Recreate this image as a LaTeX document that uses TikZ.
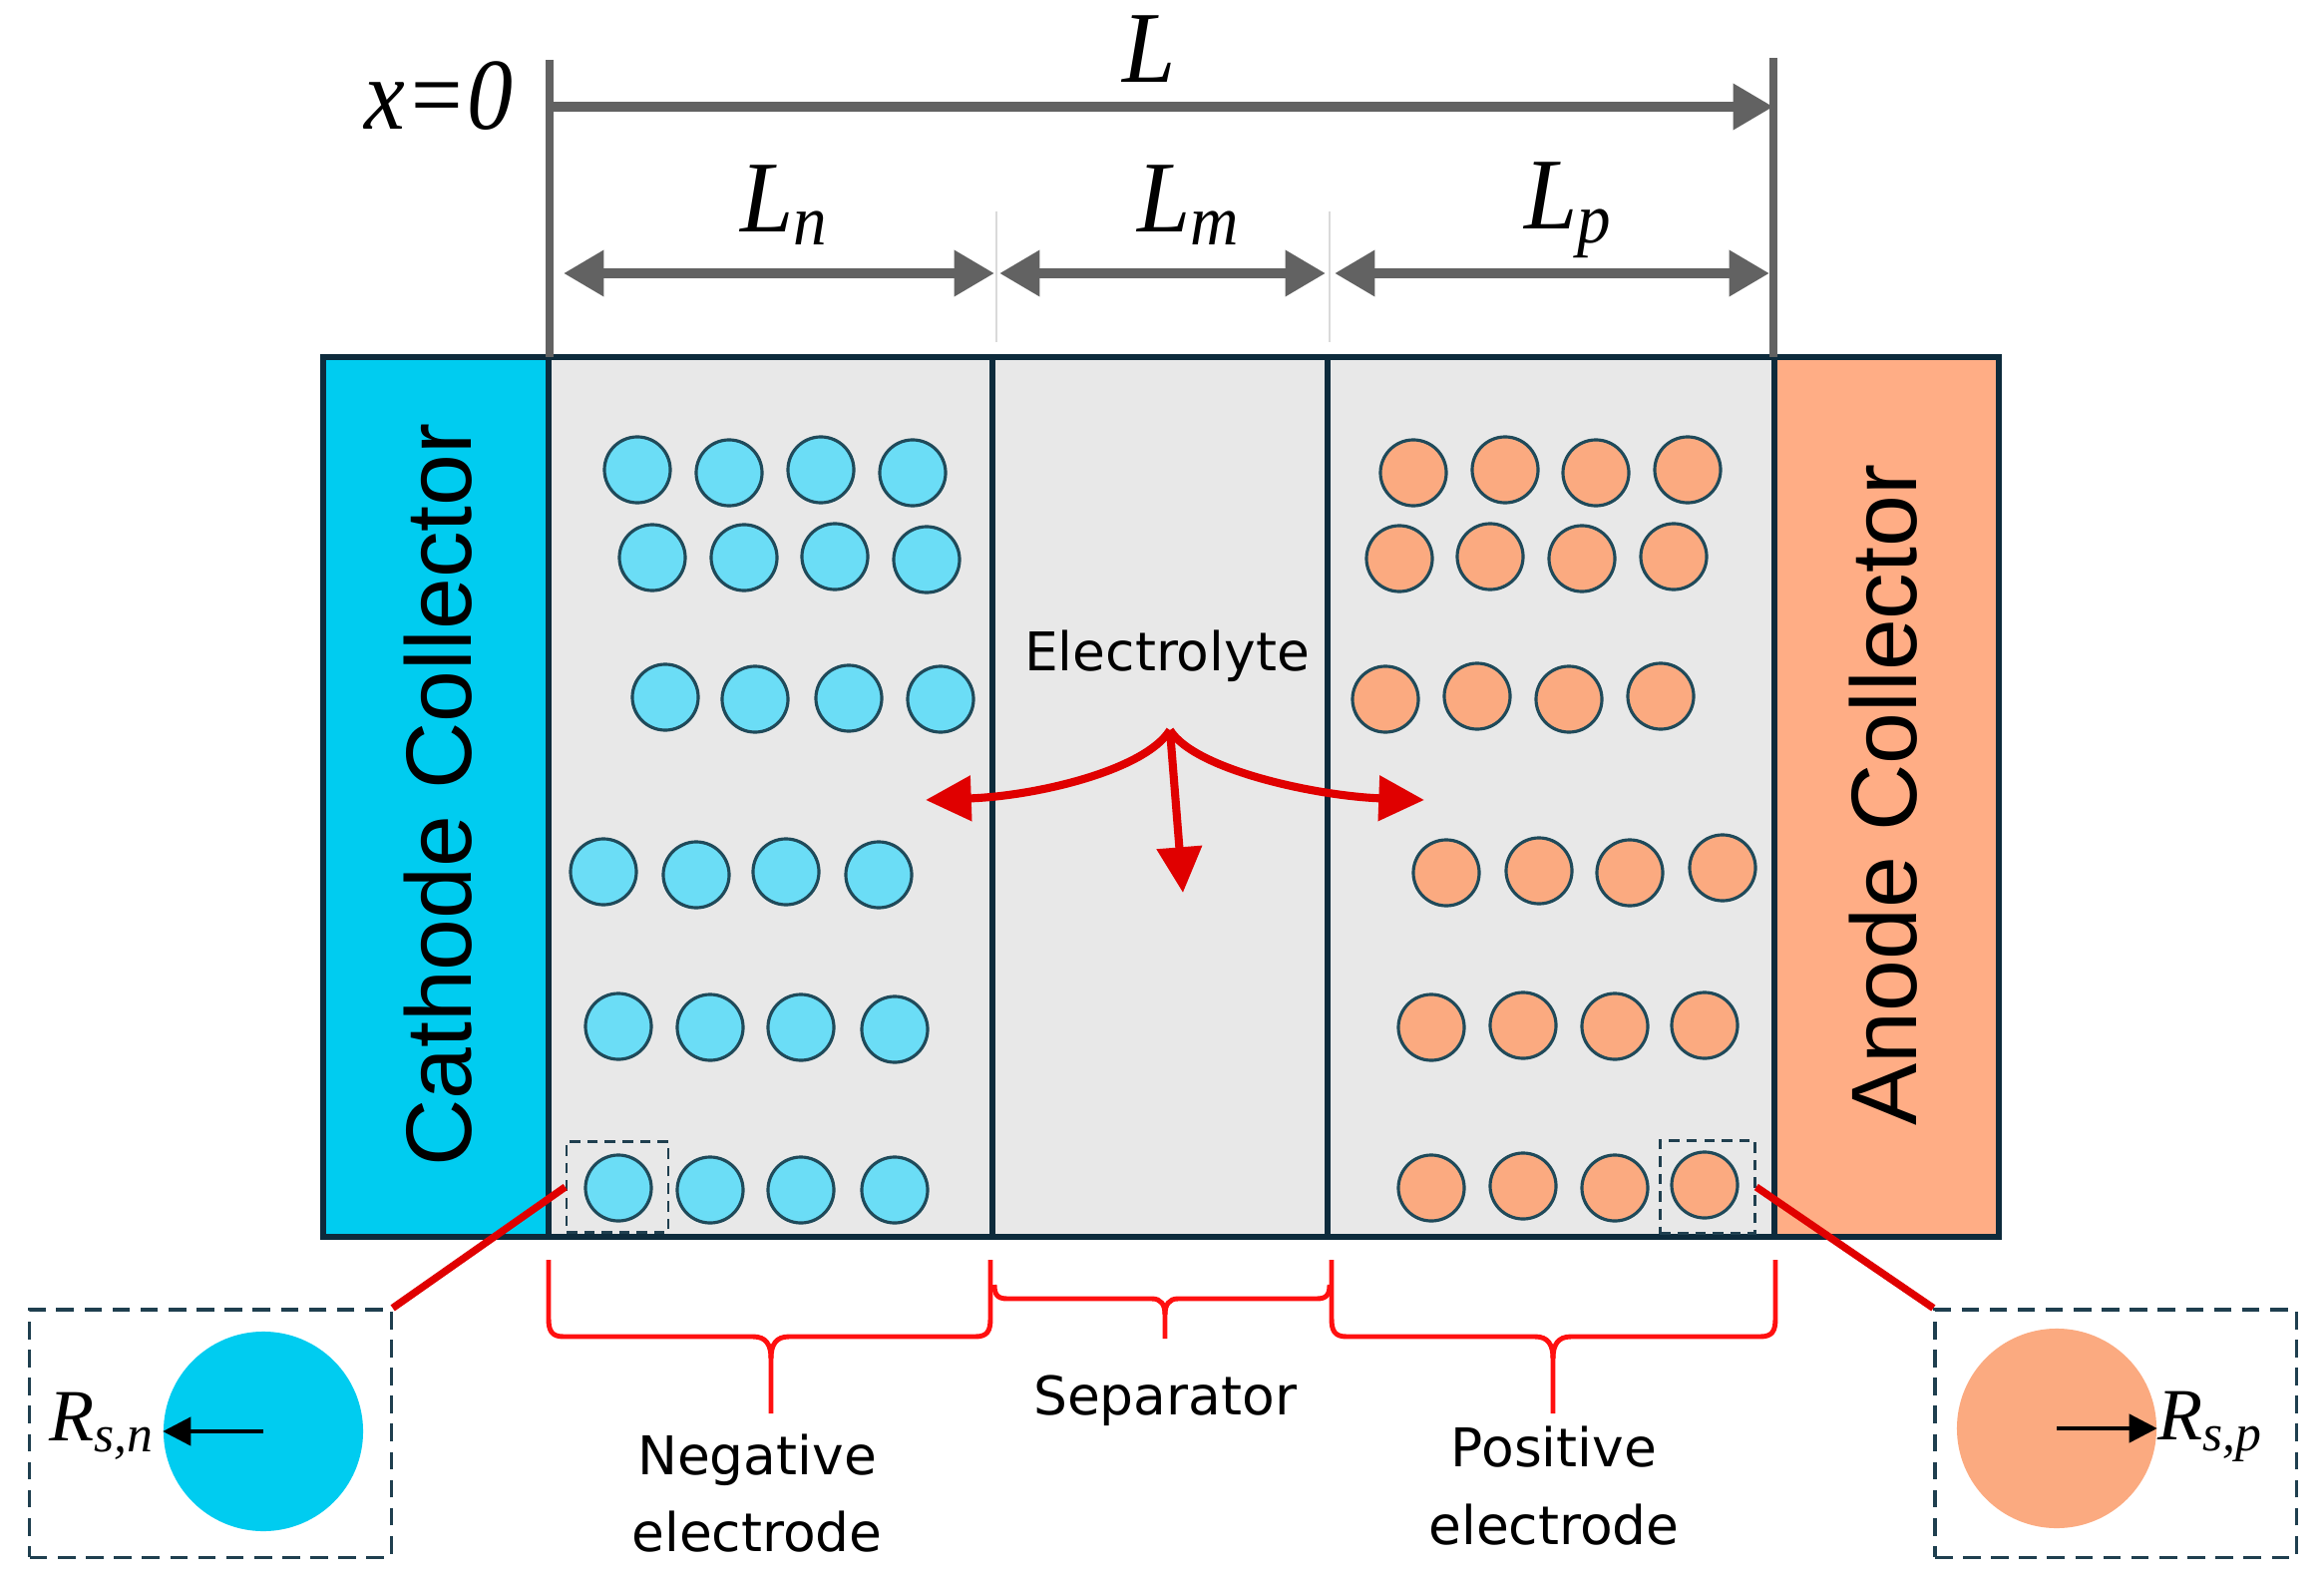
\documentclass[tikz,border=0pt]{standalone}
\usepackage{fontspec}
\setmainfont{Liberation Serif}
\newfontfamily\collfont{Liberation Sans}
\newfontfamily\labfont{DejaVu Sans}
\usetikzlibrary{arrows.meta}
\definecolor{cathcol}{HTML}{00CCF0}
\definecolor{anodcol}{HTML}{FFAD85}
\definecolor{elecbg}{HTML}{E8E8E8}
\definecolor{navy}{HTML}{0D2B3C}
\definecolor{dimgray}{HTML}{626262}
\definecolor{thingray}{HTML}{DADADA}
\definecolor{pblue}{HTML}{6BDDF6}
\definecolor{porange}{HTML}{FBAA80}
\definecolor{pedge}{HTML}{1F4A5A}
\definecolor{arrred}{HTML}{E00000}
\definecolor{brred}{HTML}{FF1010}
\definecolor{dashcol}{HTML}{1F3F4F}
\begin{document}
\begin{tikzpicture}[x=0.01cm,y=-0.01cm,
  dimline/.style={draw=dimgray,line width=2.85pt},
  dimarrow/.style={dimline,-{Triangle[length=11.5pt,width=12.5pt]}},
  dimboth/.style={dimline,{Triangle[length=11.5pt,width=12.5pt]}-{Triangle[length=11.5pt,width=12.5pt]}},
  extline/.style={draw=dimgray,line width=2.1pt},
  sepmark/.style={draw=thingray,line width=0.6pt},
  cellborder/.style={draw=navy,line width=1.8pt},
  bpart/.style={circle,draw=pedge,fill=pblue,line width=0.9pt,minimum size=0.66cm,inner sep=0pt},
  opart/.style={circle,draw=pedge,fill=porange,line width=0.9pt,minimum size=0.66cm,inner sep=0pt},
  smallbox/.style={draw=dashcol,dashed,line width=0.7pt,dash pattern=on 3pt off 2pt,inner sep=0pt},
  bigbox/.style={draw=dashcol,line width=0.9pt,dash pattern=on 5pt off 3pt,inner sep=0pt,minimum width=3.62cm,minimum height=2.48cm},
  redarrow/.style={draw=arrred,line width=2.3pt,-{Triangle[length=13pt,width=12.5pt]}},
  redlink/.style={draw=arrred,line width=2.1pt},
  brace/.style={draw=brred,line width=1.4pt,line join=round},
  blackarrow/.style={draw=black,line width=1.2pt,-{Triangle[length=8pt,width=8pt]}},
  colltext/.style={font=\collfont\fontsize{26.5pt}{30pt}\selectfont,rotate=90,anchor=base,inner sep=0pt},
  lab/.style={font=\labfont\fontsize{15.2pt}{18pt}\selectfont,inner sep=0pt},
  mathlab/.style={font=\fontsize{29pt}{34pt}\selectfont\itshape,inner sep=0pt},
  rlab/.style={font=\fontsize{21pt}{25pt}\selectfont\itshape,inner sep=0pt}
]
\useasboundingbox (0,0) rectangle (2330,1582);

% ---- cell body ----
\fill[cathcol] (324,358) rectangle (550,1240);
\fill[elecbg] (550,358) rectangle (1779,1240);
\fill[anodcol] (1779,358) rectangle (2004,1240);

% ---- particles ----
\foreach \px/\py [count=\i] in {639/471,731/474,823/471,915/474,
  654/559,746/559,837/558,929/561,
  667/699,757/701,851/700,943/701,
  605/874,698/877,788/874,881/877,
  620/1029,712/1030,803/1030,897/1032,
  620/1191,712/1193,803/1193,897/1193}
  \node[bpart] (nb\i) at (\px,\py) {};
\foreach \px/\py [count=\i] in {1417/474,1509/471,1600/474,1692/471,
  1403/560,1494/558,1586/560,1678/558,
  1389/701,1481/698,1573/701,1665/698,
  1450/875,1543/873,1634/875,1727/870,
  1435/1030,1527/1028,1619/1029,1709/1028,
  1435/1191,1527/1189,1619/1191,1709/1188}
  \node[opart] (po\i) at (\px,\py) {};

% ---- cell borders ----
\draw[cellborder] (324,358) rectangle (2004,1240);
\draw[cellborder] (550,358) -- (550,1240);
\draw[cellborder] (995,358) -- (995,1240);
\draw[cellborder] (1331,358) -- (1331,1240);
\draw[cellborder] (1779,358) -- (1779,1240);

% ---- collector labels ----
\node[colltext] (cathlab) at (472,797) {Cathode Collector};
\node[colltext] (anodlab) at (1921,797) {Anode Collector};

% ---- dimension lines ----
\coordinate (x0top) at (551,60);
\coordinate (x0bot) at (551,358);
\coordinate (xLtop) at (1778,58);
\coordinate (xLbot) at (1778,358);
\draw[extline] (x0top) -- (x0bot);
\draw[extline] (xLtop) -- (xLbot);
\coordinate (Ls) at (551,107);
\coordinate (Le) at (1778,107);
\draw[dimarrow] (Ls) -- (Le);
\coordinate (Lns) at (565,274);
\coordinate (Lne) at (997,274);
\coordinate (Lms) at (1002,274);
\coordinate (Lme) at (1329,274);
\coordinate (Lps) at (1338,274);
\coordinate (Lpe) at (1774,274);
\draw[dimboth] (Lns) -- (Lne);
\draw[dimboth] (Lms) -- (Lme);
\draw[dimboth] (Lps) -- (Lpe);
\coordinate (m1t) at (999,212);
\coordinate (m1b) at (999,343);
\coordinate (m2t) at (1333,212);
\coordinate (m2b) at (1333,343);
\draw[sepmark] (m1t) -- (m1b);
\draw[sepmark] (m2t) -- (m2b);

\node[mathlab,anchor=base east,xscale=0.9] (x0lab) at (515,130) {x=0};
\node[mathlab,anchor=base,xscale=0.94] (Llab) at (1152,83) {L};
\node[mathlab,anchor=base west,xscale=0.94] (Lnlab) at (742,232) {L\textsubscript{n}};
\node[mathlab,anchor=base west,xscale=0.94] (Lmlab) at (1140,232) {L\textsubscript{m}};
\node[mathlab,anchor=base west,xscale=0.94] (Lplab) at (1528,230) {L\textsubscript{p}};

% ---- electrolyte arrows ----
\node[lab] (elec) at (1170,658) {Electrolyte};
\coordinate (eo) at (1173,732);
\coordinate (etl) at (928,802);
\coordinate (etr) at (1428,802);
\coordinate (etd) at (1186,895);
\draw[redarrow] (eo) .. controls (1148,772) and (1040,798) .. (etl);
\draw[redarrow] (eo) .. controls (1198,772) and (1320,798) .. (etr);
\draw[redarrow] (eo) -- (etd);

% ---- braces ----
\draw[brace] (550,1263) -- (550,1322) .. controls (550,1334) and (553,1340) .. (565,1340) -- (755,1340) .. controls (768,1340) and (773,1348) .. (773,1362) -- (773,1417);
\draw[brace] (993,1263) -- (993,1322) .. controls (993,1334) and (990,1340) .. (978,1340) -- (791,1340) .. controls (778,1340) and (773,1348) .. (773,1362);
\draw[brace] (997,1288) .. controls (997,1298) and (1000,1302) .. (1010,1302) -- (1155,1302) .. controls (1164,1302) and (1168,1308) .. (1168,1318) -- (1168,1342);
\draw[brace] (1333,1288) .. controls (1333,1298) and (1330,1302) .. (1320,1302) -- (1181,1302) .. controls (1172,1302) and (1168,1308) .. (1168,1318);
\draw[brace] (1335,1263) -- (1335,1322) .. controls (1335,1334) and (1338,1340) .. (1350,1340) -- (1539,1340) .. controls (1552,1340) and (1557,1348) .. (1557,1362) -- (1557,1417);
\draw[brace] (1780,1263) -- (1780,1322) .. controls (1780,1334) and (1777,1340) .. (1765,1340) -- (1575,1340) .. controls (1562,1340) and (1557,1348) .. (1557,1362);

\node[lab] (seplab) at (1168,1404) {Separator};
\node[lab,anchor=base] (neg1) at (759,1478) {Negative};
\node[lab,anchor=base] (neg2) at (759,1555) {electrode};
\node[lab,anchor=base] (pos1) at (1558,1470) {Positive};
\node[lab,anchor=base] (pos2) at (1558,1548) {electrode};

% ---- zoom insets ----
\node[smallbox,minimum width=1.02cm,minimum height=0.91cm] (zn) at (619,1190) {};
\node[smallbox,minimum width=0.95cm,minimum height=0.93cm] (zp) at (1712,1190) {};
\node[bigbox] (bign) at (211,1437) {};
\node[bigbox] (bigp) at (2121,1437) {};
\node[circle,fill=cathcol,minimum size=2cm,inner sep=0pt] (cn) at (264,1435) {};
\node[circle,fill=porange,minimum size=2cm,inner sep=0pt] (cp) at (2062,1432) {};
\draw[redlink] (zn.west) -- (bign.north east);
\draw[redlink] (zp.east) -- (bigp.north west);
\draw[blackarrow] (cn.center) -- (cn.west);
\draw[blackarrow] (cp.center) -- (cp.east);
\node[rlab,anchor=east] (rn) at (156,1430) {R\textsubscript{s,n}};
\node[rlab,anchor=west] (rp) at (2163,1430) {R\textsubscript{s,p}};
\end{tikzpicture}
\end{document}
